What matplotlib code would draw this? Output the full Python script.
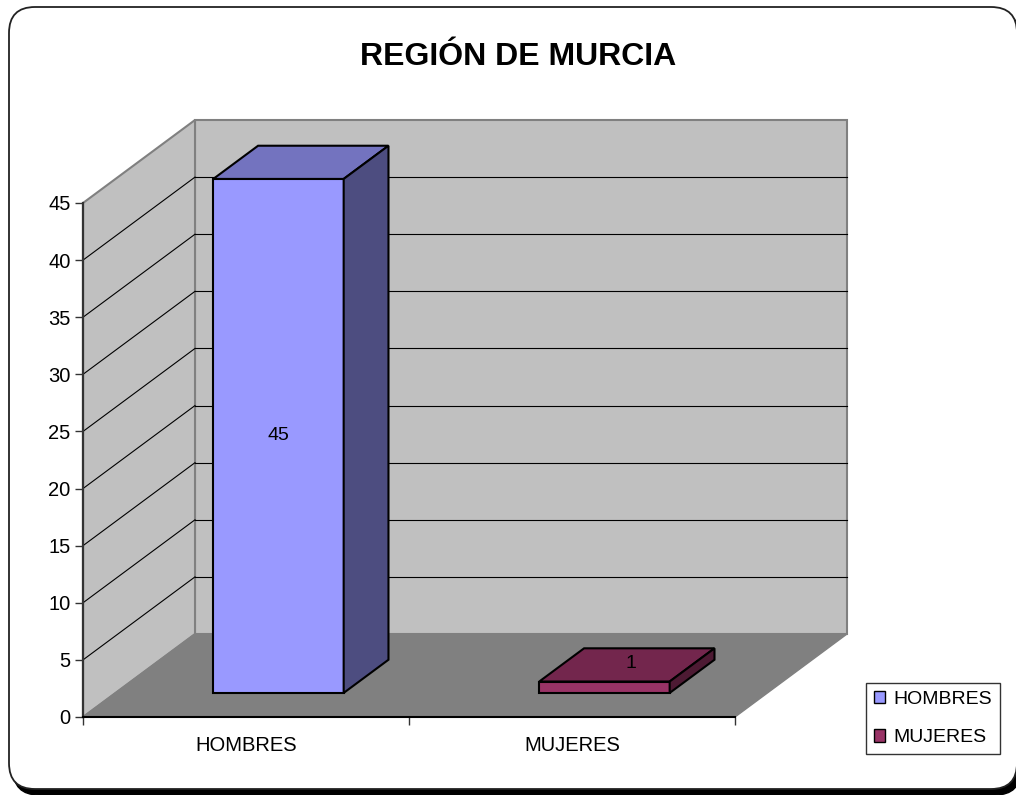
import matplotlib.pyplot as plt
import numpy as np
from matplotlib.patches import Polygon, Patch, FancyBboxPatch
from matplotlib.colors import to_rgb

# datos
categorias = ['HOMBRES', 'MUJERES']
valores = [45, 1]
colores = ['#9999FF', '#993366']
y_ticks = [0, 5, 10, 15, 20, 25, 30, 35, 40, 45]
titulo = 'REGIÓN DE MURCIA'

plt.rcParams['font.family'] = ['Liberation Sans', 'DejaVu Sans']

W, H = 1016, 795
fig = plt.figure(figsize=(W / 100, H / 100), dpi=100)

# marco redondeado con sombra
r = 26 / W
sombra = FancyBboxPatch((13 / W, 0 / H), 1008 / W, 782 / H,
                        boxstyle='round,pad=0,rounding_size=%f' % r,
                        transform=fig.transFigure, facecolor='black',
                        edgecolor='black', zorder=-2, mutation_aspect=W / H)
marco = FancyBboxPatch((9 / W, 6 / H), 1008 / W, 782 / H,
                       boxstyle='round,pad=0,rounding_size=%f' % r,
                       transform=fig.transFigure, facecolor='white',
                       edgecolor='#222222', linewidth=1.3, zorder=-1, mutation_aspect=W / H)
fig.patches.extend([sombra, marco])

fig.text(518 / W, 1 - 57 / H, titulo, ha='center', va='center',
         fontsize=23, fontweight='bold')

# plano frontal del grafico
ax = fig.add_axes([83 / W, (H - 717) / H, (735 - 83) / W, 514 / H])
ax.set_zorder(1)
n = len(categorias)
ymax = y_ticks[-1]
ax.set_xlim(0, n)
ax.set_ylim(0, ymax)
ax.patch.set_visible(False)

# profundidad en unidades de datos
DX = 112 / 326
DY = 83 / (514 / ymax)

gris_claro = '#C0C0C0'
gris = '#808080'


def poly(pts, fc, ec, lw, z):
    p = Polygon(pts, closed=True, facecolor=fc, edgecolor=ec, linewidth=lw,
                zorder=z, clip_on=False, joinstyle='miter')
    ax.add_patch(p)


# paredes y suelo
poly([(DX, DY), (n + DX, DY), (n + DX, ymax + DY), (DX, ymax + DY)], gris_claro, gris, 1.5, 0.5)
poly([(0, 0), (DX, DY), (DX, ymax + DY), (0, ymax)], gris_claro, gris, 1.5, 0.6)
poly([(0, 0), (n, 0), (n + DX, DY), (DX, DY)], gris, gris, 1.0, 0.7)

# lineas de division
for v in y_ticks[1:-1]:
    ax.plot([DX, n + DX], [v + DY, v + DY], color='black', lw=0.8, zorder=0.8, clip_on=False)
    ax.plot([0, DX], [v, v + DY], color='black', lw=0.8, zorder=0.8, clip_on=False)

# barras 3D
ancho = 0.4
f0, f1 = 0.29, 0.69
for i, (v, c) in enumerate(zip(valores, colores)):
    rgb = np.array(to_rgb(c))
    x0 = i + 0.5 - ancho / 2 + f0 * DX
    x1 = x0 + ancho
    y0 = f0 * DY
    y1 = y0 + v
    ddx = (f1 - f0) * DX
    ddy = (f1 - f0) * DY
    poly([(x0, y0), (x1, y0), (x1, y1), (x0, y1)], rgb, 'black', 1.5, 3)
    poly([(x0, y1), (x1, y1), (x1 + ddx, y1 + ddy), (x0 + ddx, y1 + ddy)], rgb * 0.75, 'black', 1.5, 3)
    poly([(x1, y0), (x1 + ddx, y0 + ddy), (x1 + ddx, y1 + ddy), (x1, y1)], rgb * 0.5, 'black', 1.5, 3)
    if v > ymax * 0.1:
        ax.text((x0 + x1) / 2, (y0 + y1) / 2, str(v), ha='center', va='center',
                fontsize=14, zorder=4)
    else:
        ax.text((x0 + x1) / 2 + ddx * 0.6, y1 + ddy * 0.55, str(v), ha='center', va='center',
                fontsize=14, zorder=4)

# ejes
for s in ['top', 'right']:
    ax.spines[s].set_visible(False)
ax.spines['left'].set_color('#333333')
ax.spines['left'].set_linewidth(1.6)
ax.spines['bottom'].set_color('black')
ax.spines['bottom'].set_linewidth(1.5)

ax.set_yticks(y_ticks)
ax.set_yticklabels([str(t) for t in y_ticks])
ax.tick_params(axis='y', length=6, width=1, color='#333333', pad=3, labelsize=14.5)
ax.set_xticks(np.arange(n + 1))
ax.set_xticklabels([''] * (n + 1))
ax.tick_params(axis='x', which='major', length=6, width=1, color='#333333')
ax.set_xticks(np.arange(n) + 0.5, minor=True)
ax.set_xticklabels(categorias, minor=True)
ax.tick_params(axis='x', which='minor', length=0, pad=14, labelsize=14.5)

# leyenda
handles = [Patch(facecolor=c, edgecolor='black', linewidth=1) for c in colores]
leg = fig.legend(handles, categorias, loc='upper left', bbox_to_anchor=(866 / W, 1 - 683 / H),
                 frameon=True, fancybox=False, edgecolor='black', fontsize=14,
                 handlelength=0.6, handleheight=0.6, handletextpad=0.4,
                 borderpad=0.4, labelspacing=1.1, borderaxespad=0)
leg.get_frame().set_linewidth(1)

fig.savefig('out.png', dpi=100)
